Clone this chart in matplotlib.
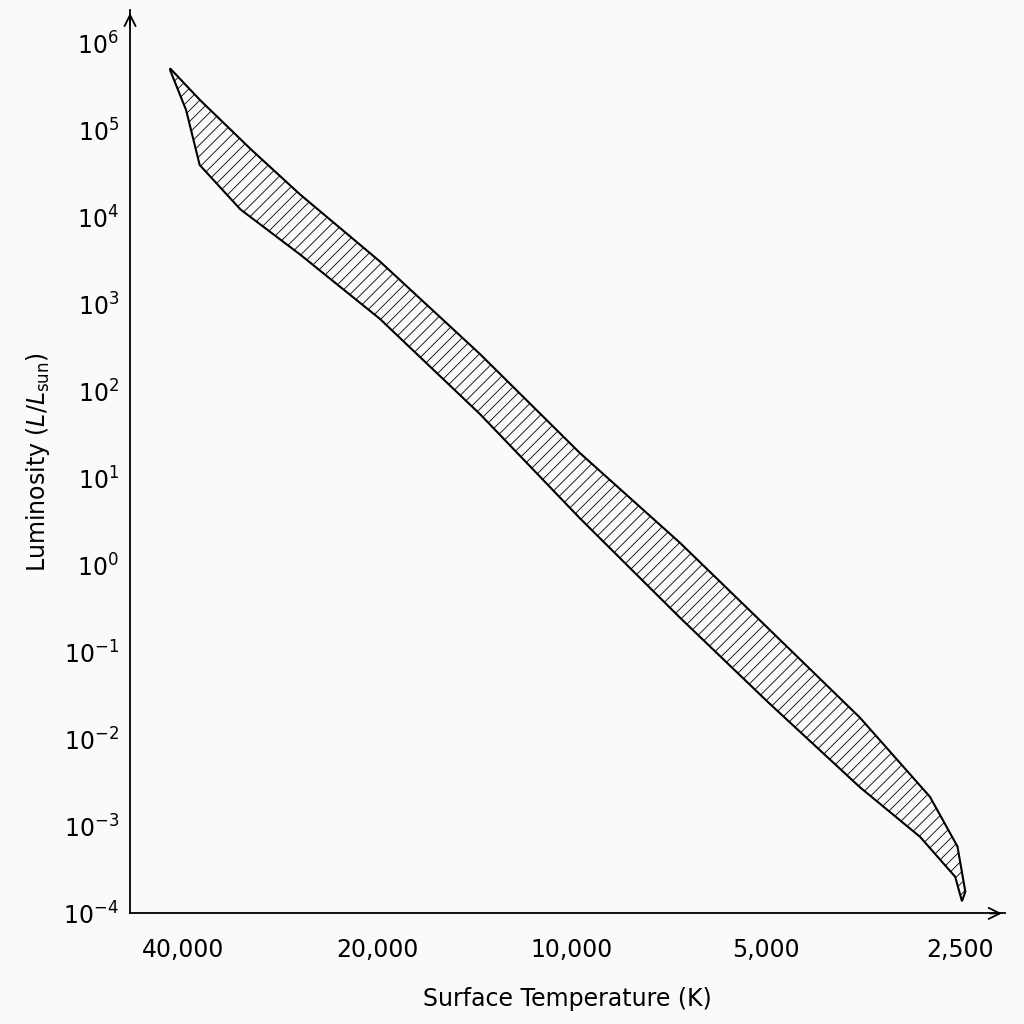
import matplotlib
matplotlib.use("Agg")
import matplotlib.pyplot as plt
import numpy as np

upper_T = [41900, 37700, 31400, 26330, 19800, 13870, 9700, 6790, 4960, 3570, 2780, 2520, 2450]
upper_logL = [5.71, 5.35, 4.78, 4.26, 3.49, 2.43, 1.29, 0.26, -0.72, -1.75, -2.66, -3.23, -3.75]
lower_T = [41900, 39570, 37700, 32600, 26330, 19800, 13870, 9700, 6790, 4960, 3570, 2880, 2540, 2480, 2450]
lower_logL = [5.69, 5.23, 4.60, 4.09, 3.57, 2.83, 1.74, 0.54, -0.60, -1.57, -2.55, -3.12, -3.58, -3.86, -3.75]

xticks = [40000, 20000, 10000, 5000, 2500]
xticklabels = ["40,000", "20,000", "10,000", "5,000", "2,500"]
yexp = list(range(-4, 7))

plt.rcParams['hatch.linewidth'] = 0.6
fig = plt.figure(figsize=(10.24, 10.24), dpi=100)
fig.patch.set_facecolor('#fafafa')
ax = fig.add_axes([0.127, 0.108, 0.854, 0.882])
ax.set_facecolor('#fafafa')

xs = np.concatenate([upper_T, lower_T[::-1]])
ys = np.concatenate([upper_logL, lower_logL[::-1]])
ax.fill(xs, 10.0**ys, facecolor='none', edgecolor='black', hatch='///', linewidth=1.5)

ax.set_xscale('log'); ax.set_yscale('log')
ax.set_xlim(48340, 2130)
ax.set_ylim(10**-3.954, 10**6.378)
ax.set_xticks(xticks); ax.set_xticklabels(xticklabels, fontsize=17)
ax.minorticks_off()
ax.set_yticks([10.0**e for e in yexp])
ax.set_yticklabels([r"$10^{%d}$" % e if e >= 0 else r"$10^{-%d}$" % (-e) for e in yexp], fontsize=17)
ax.tick_params(axis='x', length=0, pad=18)
ax.tick_params(axis='y', length=0, pad=8)
for s in ['top', 'right']:
    ax.spines[s].set_visible(False)
for s in ['left', 'bottom']:
    ax.spines[s].set_linewidth(1.3)
ax.annotate('', xy=(1.0, 0), xycoords='axes fraction', xytext=(0.98, 0),
            arrowprops=dict(arrowstyle='->', lw=1.3, color='black', mutation_scale=20))
ax.annotate('', xy=(0, 1.0), xycoords='axes fraction', xytext=(0, 0.98),
            arrowprops=dict(arrowstyle='->', lw=1.3, color='black', mutation_scale=20))
ax.set_xlabel("Surface Temperature (K)", fontsize=17, labelpad=18)
ax.set_ylabel(r"Luminosity ($L/L_{\mathrm{sun}}$)", fontsize=17, labelpad=8)
fig.savefig("out.png", dpi=100, facecolor=fig.get_facecolor())
